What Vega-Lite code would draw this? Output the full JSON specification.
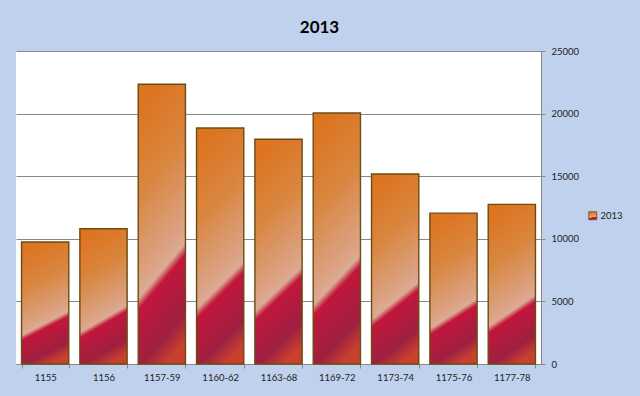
{
  "$schema": "https://vega.github.io/schema/vega-lite/v6.json",
  "width": 525,
  "height": 313,
  "autosize": {"type": "none"},
  "padding": {"left": 16, "top": 51, "right": 99, "bottom": 32},
  "background": "#c0d1ed",
  "title": {"text": "2013", "font": "Lato", "fontSize": 17, "fontWeight": "bold", "color": "#000000", "anchor": "middle", "frame": "group", "dx": 41, "offset": 9},
  "data": {"values": [
    {"period": "1155", "value": 9750, "series": "2013"},
    {"period": "1156", "value": 10800, "series": "2013"},
    {"period": "1157-59", "value": 22350, "series": "2013"},
    {"period": "1160-62", "value": 18850, "series": "2013"},
    {"period": "1163-68", "value": 17950, "series": "2013"},
    {"period": "1169-72", "value": 20050, "series": "2013"},
    {"period": "1173-74", "value": 15180, "series": "2013"},
    {"period": "1175-76", "value": 12050, "series": "2013"},
    {"period": "1177-78", "value": 12750, "series": "2013"}
  ]},
  "mark": {"type": "bar", "strokeWidth": 1.4, "fill": {"gradient": "linear", "x1": 0.4, "y1": 0, "x2": 0.6, "y2": 1, "stops": [
        {"offset": 0, "color": "#dd7420"},
        {"offset": 0.3, "color": "#d9863f"},
        {"offset": 0.6, "color": "#dba284"},
        {"offset": 0.66, "color": "#dcab92"},
        {"offset": 0.7, "color": "#c2163c"},
        {"offset": 0.9, "color": "#9e2040"},
        {"offset": 1, "color": "#c8402e"}]}},
  "encoding": {
    "x": {"field": "period", "type": "nominal", "sort": null,
      "scale": {"paddingInner": 0.19, "paddingOuter": 0.095},
      "axis": {"title": null, "labelAngle": 0, "labelFont": "Lato", "labelFontSize": 9.5, "labelColor": "#222222", "domainColor": "#888888", "tickColor": "#888888", "tickBand": "extent", "tickSize": 4, "labelPadding": 4}},
    "y": {"field": "value", "type": "quantitative",
      "scale": {"domain": [0, 25000]},
      "axis": {"orient": "right", "title": null, "values": [0, 5000, 10000, 15000, 20000, 25000], "format": "d", "gridColor": "#8a8a8a", "domainColor": "#888888", "tickColor": "#888888", "tickSize": 4, "labelFont": "Lato", "labelFontSize": 9.5, "labelColor": "#222222", "labelPadding": 6}},
    "stroke": {"field": "series", "type": "nominal",
      "scale": {"range": ["#6b4c12"]},
      "legend": {"title": null, "orient": "none", "legendX": 572, "legendY": 160, "symbolType": "square", "symbolSize": 64, "symbolStrokeWidth": 0.8, "labelFont": "Lato", "labelFontSize": 9.5, "labelColor": "#222222", "labelOffset": 3}}
  },
  "config": {"view": {"fill": "white", "stroke": null}}
}
